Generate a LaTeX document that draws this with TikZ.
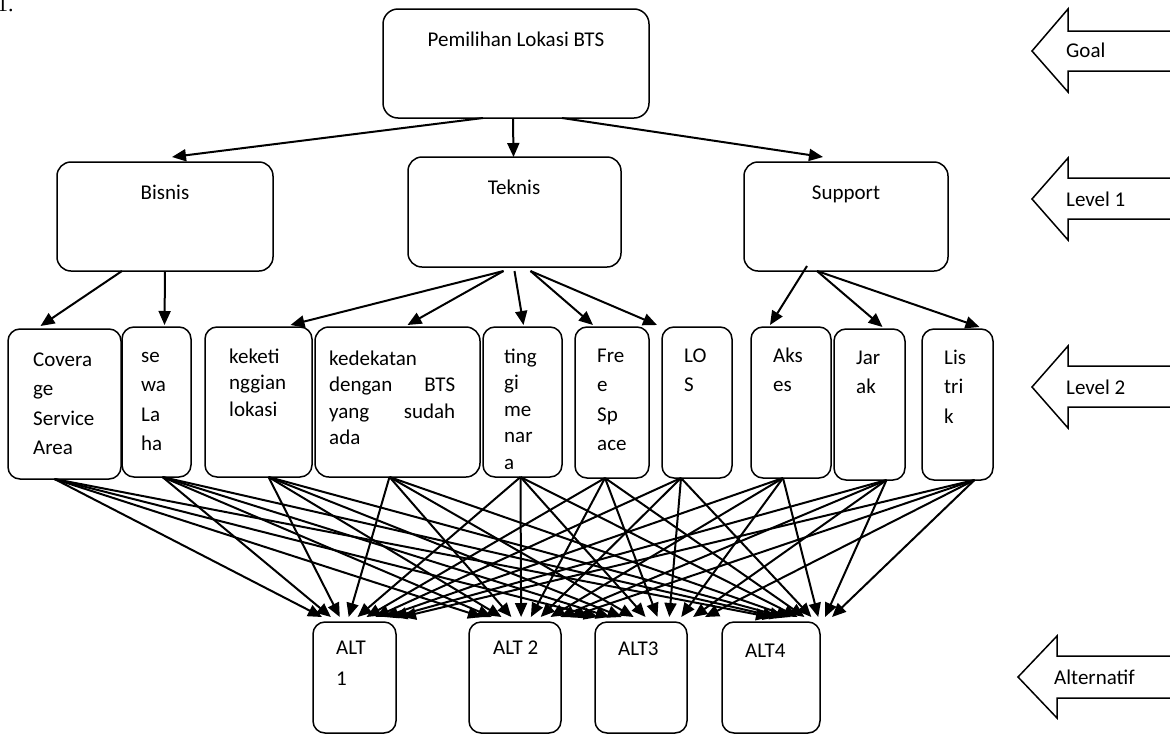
\documentclass[tikz,border=0pt]{standalone}
\usepackage{fontspec}
\setmainfont{Carlito}
\newfontfamily\numserif{Liberation Serif}
\usetikzlibrary{arrows.meta,calc}
\newcommand\bx[6]{%
  \pgfmathsetmacro\bxcx{(#2+#4)/2}%
  \pgfmathsetmacro\bxcy{(#3+#5)/2}%
  \pgfmathsetmacro\bxw{#4-#2}%
  \pgfmathsetmacro\bxh{#5-#3}%
  \node[box,rounded corners=#6pt,minimum width=\bxw pt,minimum height=\bxh pt] (#1) at (\bxcx,\bxcy) {};}
\begin{document}
\begin{tikzpicture}[x=1pt,y=-1pt,
  box/.style={draw,line width=1.5pt,inner sep=0pt,outer sep=0pt},
  conn/.style={line width=2pt,-{Triangle[length=14pt,width=12pt]}},
  txt/.style={inner sep=0pt,anchor=base west,font=\fontsize{21}{25}\selectfont},
  ctxt/.style={inner sep=0pt,anchor=base,font=\fontsize{21}{25}\selectfont},
  barrow/.style={line width=1.5pt,line join=miter}]
\useasboundingbox (0,0) rectangle (1170,734);

\node[inner sep=0pt,anchor=base west,font=\numserif\fontsize{22}{26}\selectfont] (num) at (-3,11) {1.};

% goal and level 1
\bx{goal}{383}{9}{649}{118}{15}
\bx{bisnis}{57}{162}{273}{271}{14}
\bx{teknis}{408}{157}{621}{267}{14}
\bx{support}{744}{162}{948}{271}{14}
\node[ctxt] (goalt) at (516,46) {Pemilihan Lokasi BTS};
\node[ctxt] (bisnist) at (165,199) {Bisnis};
\node[ctxt] (teknist) at (514,194) {Teknis};
\node[ctxt] (supportt) at (846,199) {Support};

% level 2
\bx{cov}{8}{329}{121}{479}{12}
\bx{sewa}{122}{327}{191}{477}{12}
\bx{kek}{205}{327}{312}{477}{12}
\bx{ked}{315}{327}{480}{477}{14}
\bx{ting}{483}{327}{562}{477}{12}
\bx{free}{575}{327}{649}{478}{12}
\bx{los}{662}{327}{732}{478}{12}
\bx{akses}{751}{327}{831}{478}{12}
\bx{jarak}{834}{329}{905}{480}{12}
\bx{listrik}{922}{329}{993}{480}{12}

\node[txt] (covt) at (33,366) {\vtop{\baselineskip=29.5pt\hbox{Covera}\hbox{ge}\hbox{Service}\hbox{Area}}};
\node[txt] (sewat) at (141,362) {\vtop{\baselineskip=29.5pt\hbox{se}\hbox{wa}\hbox{La}\hbox{ha}}};
\node[txt] (kekt) at (229,363) {\vtop{\baselineskip=26.5pt\hbox{keketi}\hbox{nggian}\hbox{lokasi}}};
\node[txt] (kedt) at (329,365) {\vtop{\baselineskip=26.5pt\hbox{kedekatan}\hbox to 126pt{dengan\hfill BTS}\hbox to 126pt{yang\hfill sudah}\hbox{ada}}};
\node[txt] (tingt) at (504,363) {\vtop{\baselineskip=26.5pt\hbox{ting}\hbox{gi}\hbox{me}\hbox{nar}\hbox{a}}};
\node[txt] (freet) at (597,362) {\vtop{\baselineskip=29.5pt\hbox{Fre}\hbox{e}\hbox{Sp}\hbox{ace}}};
\node[txt] (lost) at (684,362) {\vtop{\baselineskip=29.5pt\hbox{LO}\hbox{S}}};
\node[txt] (aksest) at (773,362) {\vtop{\baselineskip=29.5pt\hbox{Aks}\hbox{es}}};
\node[txt] (jarakt) at (856,364) {\vtop{\baselineskip=29.5pt\hbox{Jar}\hbox{ak}}};
\node[txt] (listrikt) at (944,364) {\vtop{\baselineskip=29.5pt\hbox{Lis}\hbox{tri}\hbox{k}}};

% alternatives
\bx{alt1}{313}{622}{396}{733}{12}
\bx{alt2}{469}{622}{561}{733}{12}
\bx{alt3}{595}{622}{687}{733}{12}
\bx{alt4}{722}{622}{820}{733}{12}
\node[txt] (alt1t) at (336,654) {\vtop{\baselineskip=31pt\hbox{ALT}\hbox{1}}};
\node[txt] (alt2t) at (493,654) {ALT 2};
\node[txt] (alt3t) at (618,655) {ALT3};
\node[txt] (alt4t) at (745,657) {ALT4};

% goal -> level 1
\draw[conn] ([xshift=-33pt]goal.south) -- ([xshift=7pt,yshift=5pt]bisnis.north);
\draw[conn] ([xshift=-3pt]goal.south) -- ([xshift=-1pt]teknis.north);
\draw[conn] ([xshift=46pt]goal.south) -- ([xshift=-23pt,yshift=5pt]support.north);

% level 1 -> level 2
\draw[conn] ([xshift=-43pt]bisnis.south) -- ([xshift=-24pt,yshift=3pt]cov.north);
\draw[conn] (bisnis.south) -- ([xshift=8pt,yshift=2pt]sewa.north);
\draw[conn] ([xshift=-11pt,yshift=-4pt]teknis.south) -- ([xshift=32pt,yshift=2pt]kek.north);
\draw[conn] ([xshift=-11pt,yshift=-4pt]teknis.south) -- ([xshift=10pt,yshift=2pt]ked.north);
\draw[conn] ([yshift=-4pt]teknis.south) -- ([xshift=1pt,yshift=2pt]ting.north);
\draw[conn] ([xshift=16pt,yshift=-4pt]teknis.south) -- ([xshift=-19pt,yshift=2pt]free.north);
\draw[conn] ([xshift=16pt,yshift=-4pt]teknis.south) -- ([xshift=-40pt,yshift=2pt]los.north);
\draw[conn] ([xshift=-39pt,yshift=5pt]support.south) -- ([xshift=-21pt,yshift=2pt]akses.north);
\draw[conn] ([xshift=-29pt]support.south) -- ([xshift=13pt,yshift=2pt]jarak.north);
\draw[conn] ([xshift=-29pt]support.south) -- ([xshift=22pt,yshift=2pt]listrik.north);

% level 2 -> alternatives
\coordinate (s-cov) at ($(cov.south)+(-10,0)$);
\coordinate (s-sewa) at ($(sewa.south)+(6,0)$);
\coordinate (s-kek) at ($(kek.south)+(10,0)$);
\coordinate (s-ked) at ($(ked.south)+(-8,0)$);
\coordinate (s-ting) at ($(ting.south)+(-2,0)$);
\coordinate (s-free) at ($(free.south)+(-7,0)$);
\coordinate (s-los) at ($(los.south)+(-16,0)$);
\coordinate (s-akses) at ($(akses.south)+(-8,0)$);
\coordinate (s-jarak) at ($(jarak.south)+(17,0)$);
\coordinate (s-listrik) at ($(listrik.south)+(17,0)$);
\foreach \s [count=\i] in {cov,sewa,kek,ked,ting,free,los,akses,jarak,listrik} {
  \foreach \a/\lo/\hi in {alt1/322/402,alt2/482/570,alt3/598/705,alt4/770/832} {
    \pgfmathsetmacro\tipx{\lo+(\i-1)*(\hi-\lo)/9}
    \coordinate (t-\s-\a) at (\tipx,617);
    \draw[conn] (s-\s) -- (t-\s-\a);
  }
}

% level markers on the right
\draw[barrow] (1171,31) -- (1068,31) -- (1068,9) -- (1032,51) -- (1068,92) -- (1068,71) -- (1171,71);
\draw[barrow] (1171,178) -- (1068,178) -- (1068,158) -- (1032,199) -- (1068,240) -- (1068,219) -- (1171,219);
\draw[barrow] (1171,366) -- (1068,366) -- (1068,346) -- (1032,387) -- (1068,428) -- (1068,407) -- (1171,407);
\draw[barrow] (1171,656) -- (1057,656) -- (1057,636) -- (1018,677) -- (1057,718) -- (1057,698) -- (1171,698);
\node[txt] (goallab) at (1066,57) {Goal};
\node[txt] (l1lab) at (1066,206) {Level 1};
\node[txt] (l2lab) at (1066,394) {Level 2};
\node[txt] (altlab) at (1054,684) {Alternatif};
\end{tikzpicture}
\end{document}
